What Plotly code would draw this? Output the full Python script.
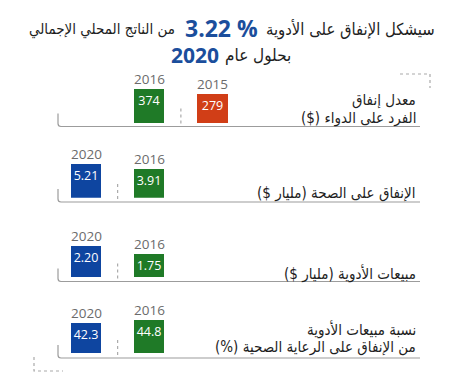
import plotly.graph_objects as go

W, H = 465, 373

# ---------------- data ----------------
years_order = ["2020", "2016", "2015"]
panel_years = [["2016", "2015"], ["2020", "2016"], ["2020", "2016"], ["2020", "2016"]]
panel_values = [[374, 279], [5.21, 3.91], [2.20, 1.75], [42.3, 44.8]]
panel_value_labels = [["374", "279"], ["5.21", "3.91"], ["2.20", "1.75"], ["42.3", "44.8"]]
panel_titles = [
    ["معدل إنفاق", "الفرد على الدواء ($)"],
    ["الإنفاق على الصحة (مليار $)"],
    ["مبيعات الأدوية (مليار $)"],
    ["نسبة مبيعات الأدوية", "من الإنفاق على الرعاية الصحية (%)"],
]
title_right = "سيشكل الإنفاق على الأدوية"
title_number = "3.22 %"
title_left = "من الناتج المحلي الإجمالي"
subtitle_text = "بحلول عام"
subtitle_year = "2020"

# ---------------- style ----------------
year_colors = {"2020": "#0e45a0", "2016": "#1f7a27", "2015": "#d13e17"}
TITLE_BLUE = "#1b4e9c"
GRAY_TXT = "#6b6b6b"
LINE_GRAY = "#9c9c9c"
AR_FONT = "DejaVu Sans Condensed, DejaVu Sans"
NUM_FONT = "Open Sans"

# axis floors/ceilings per panel (value axis)
y_ranges = [[-240, 835], [-2.6, 11.1], [0.45, 3.82], [17, 67]]
bar_bottom_px = [123.3, 197.7, 277, 353.3]
baseline_px = [126.5, 202, 281.5, 358]
label_rows_px = [[100, 117.5], [192.5], [273], [329, 347]]
sep_index = [1.5, 0.5, 0.5, 0.5]


def px(x):
    return x / W


def py(y):
    return 1 - y / H


X0, X1 = 58, 420
slot0, unit = 86, 63.25
x_range = [(X0 - slot0) / unit, (X1 - slot0) / unit]

fig = go.Figure()
shapes = []
annotations = []

for i in range(4):
    xa = "x" if i == 0 else f"x{i+1}"
    ya = "y" if i == 0 else f"y{i+1}"
    floor = y_ranges[i][0]
    yrs = panel_years[i]
    vals = panel_values[i]
    fig.add_trace(go.Bar(
        x=yrs,
        y=[v - floor for v in vals],
        base=floor,
        text=panel_value_labels[i],
        textposition="inside",
        insidetextanchor="end",
        textangle=0,
        constraintext="none",
        textfont=dict(family=NUM_FONT, size=12.5, color="white"),
        marker=dict(color=[year_colors[y] for y in yrs], line=dict(width=0)),
        width=0.48,
        xaxis=xa, yaxis=ya,
        showlegend=False,
        hoverinfo="skip",
    ))
    b = bar_bottom_px[i]
    fig.layout[("xaxis" if i == 0 else f"xaxis{i+1}")] = dict(
        domain=[px(X0), px(X1)], anchor=ya, type="category",
        categoryorder="array", categoryarray=years_order,
        range=x_range, visible=False, fixedrange=True,
    )
    fig.layout[("yaxis" if i == 0 else f"yaxis{i+1}")] = dict(
        domain=[py(b), py(b - 60)], anchor=xa, range=y_ranges[i],
        visible=False, fixedrange=True,
    )
    # year labels above bars
    for yr, v in zip(yrs, vals):
        annotations.append(dict(
            x=years_order.index(yr), y=v, xref=xa, yref=ya, text=yr, showarrow=False,
            yanchor="bottom", xanchor="center", yshift=-1,
            font=dict(family=NUM_FONT, size=13.5, color=GRAY_TXT),
        ))
    # baseline bracket
    yb = baseline_px[i]
    path = (f"M {px(X0)},{py(yb - 13)} L {px(X0)},{py(yb - 3)} "
            f"Q {px(X0)},{py(yb)} {px(X0 + 3)},{py(yb)} L {px(X1)},{py(yb)}")
    shapes.append(dict(type="path", path=path, xref="paper", yref="paper",
                       line=dict(color=LINE_GRAY, width=1.2)))
    # dotted separator
    shapes.append(dict(type="line", xref=xa, yref="paper",
                       x0=sep_index[i], x1=sep_index[i],
                       y0=py(yb - 18), y1=py(yb),
                       line=dict(color="#aaaaaa", width=1.2, dash="dot")))
    # row labels
    for line_txt, ypx in zip(panel_titles[i], label_rows_px[i]):
        annotations.append(dict(
            x=px(418), y=py(ypx), xref="paper", yref="paper",
            text="\u200f" + line_txt + "\u200f", showarrow=False,
            xanchor="right", yanchor="middle",
            font=dict(family=AR_FONT, size=15, color="#1e1e1e"),
        ))

# title
annotations += [
    dict(x=px(437), y=py(29.5), xref="paper", yref="paper", text="\u200f" + title_right + "\u200f",
         showarrow=False, xanchor="right", yanchor="middle",
         font=dict(family=AR_FONT, size=16.5, color="#1e1e1e")),
    dict(x=px(221), y=py(28), xref="paper", yref="paper", text="<b>" + title_number + "</b>",
         showarrow=False, xanchor="center", yanchor="middle", height=24,
         font=dict(family=NUM_FONT, size=23, color=TITLE_BLUE)),
    dict(x=px(177), y=py(29.5), xref="paper", yref="paper", text="\u200f" + title_left + "\u200f",
         showarrow=False, xanchor="right", yanchor="middle",
         font=dict(family=AR_FONT, size=15, color="#1e1e1e")),
    dict(x=px(293), y=py(55), xref="paper", yref="paper", text="\u200f" + subtitle_text + "\u200f",
         showarrow=False, xanchor="right", yanchor="middle",
         font=dict(family=AR_FONT, size=17, color="#1e1e1e")),
    dict(x=px(221), y=py(55), xref="paper", yref="paper", text="<b>" + subtitle_year + "</b>",
         showarrow=False, xanchor="right", yanchor="middle", height=20,
         font=dict(family=NUM_FONT, size=21, color=TITLE_BLUE)),
]

# decorative dotted corners
shapes += [
    dict(type="path", xref="paper", yref="paper",
         path=f"M {px(400)},{py(74)} L {px(430)},{py(74)} L {px(430)},{py(88)}",
         line=dict(color="#aaaaaa", width=1.2, dash="dot")),
    dict(type="path", xref="paper", yref="paper",
         path=f"M {px(34)},{py(357)} L {px(34)},{py(371)} L {px(63)},{py(371)}",
         line=dict(color="#aaaaaa", width=1.2, dash="dot")),
]

fig.update_layout(
    width=W, height=H,
    margin=dict(l=0, r=0, t=0, b=0),
    paper_bgcolor="white", plot_bgcolor="white",
    shapes=shapes, annotations=annotations,
    bargap=0, showlegend=False,
)

fig.write_html("out.html", config={"displayModeBar": False},
               post_script="document.body.style.margin='0';document.body.style.padding='0';")
